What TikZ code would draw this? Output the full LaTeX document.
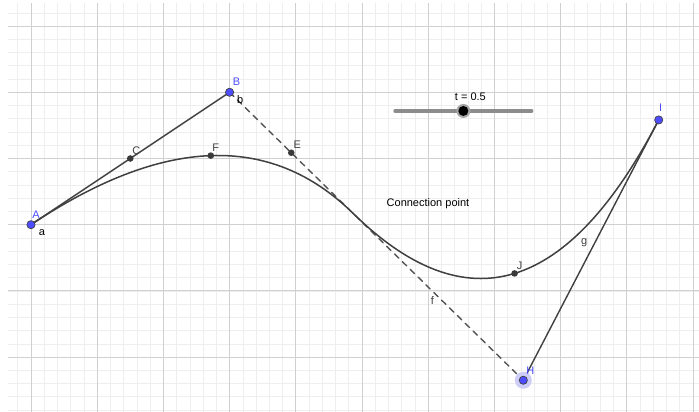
\documentclass[tikz,border=0pt]{standalone}
\usepackage{fontspec}
\setmainfont{Liberation Sans}
\usetikzlibrary{calc}
\definecolor{geoblue}{RGB}{77,77,255}
\definecolor{geodark}{RGB}{64,64,64}
\definecolor{majorgray}{RGB}{208,208,208}
\definecolor{minorgray}{RGB}{238,238,238}
\definecolor{haloblue}{RGB}{205,205,248}
\definecolor{slidergray}{RGB}{140,140,140}
\tikzset{
  seg/.style={line width=1.4pt,draw=geodark},
  dashseg/.style={line width=1.4pt,draw=geodark!90,dash pattern=on 6pt off 5pt},
  bez/.style={line width=1.5pt,draw=geodark},
  freept/.style={fill=geoblue,draw=black!75,line width=0.7pt},
  deppt/.style={fill=geodark!90!black},
  lbl/.style={font=\fontsize{11}{13}\selectfont,inner sep=0pt},
  bluelbl/.style={lbl,text=geoblue},
  greylbl/.style={lbl,text=geodark},
}
\begin{document}
\begin{tikzpicture}[x=66.2pt,y=66.2pt,line cap=round,line join=round]
  \useasboundingbox (-0.468,-2.829) rectangle (10.091,3.394);
  \begin{scope}
    \clip (-0.347,-2.829) rectangle (10.091,3.334);
    \draw[minorgray,line width=0.6pt,line cap=butt] (-0.4,-3) grid[step=0.2] (10.2,3.4);
    \draw[majorgray,line width=0.8pt,line cap=butt] (-1,-3) grid[step=1] (11,4);
  \end{scope}

  \coordinate (A) at (0,0);
  \coordinate (B) at (3,2);
  \coordinate (H) at (7.437,-2.35);
  \coordinate (I) at (9.482,1.582);
  \coordinate (P) at ($(B)!0.42!(H)$);
  \coordinate (C) at ($(A)!0.5!(B)$);
  \coordinate (E) at ($(B)!0.5!(P)$);
  \coordinate (F) at ($(C)!0.5!(E)$);
  \coordinate (K) at ($(P)!0.5!(H)$);
  \coordinate (L) at ($(H)!0.5!(I)$);
  \coordinate (J) at ($(K)!0.5!(L)$);

  \draw[seg] (A) -- (B);
  \draw[dashseg] (B) -- (H) node[greylbl,pos=0.7245,xshift=-10pt] (lf) {f};
  \draw[seg] (H) -- (I) node[greylbl,pos=0.53,xshift=-11pt] (lg) {g};
  \draw[bez] (A) .. controls ($(A)!2/3!(B)$) and ($(P)!2/3!(B)$) .. (P);
  \draw[bez] (P) .. controls ($(P)!2/3!(H)$) and ($(I)!2/3!(H)$) .. (I);

  \fill[haloblue] (H) circle (8.5pt);
  \foreach \p in {A,B,H,I}
    \filldraw[freept] (\p) circle (4.1pt);
  \foreach \p in {C,E,F,J}
    \fill[deppt] (\p) circle (3.3pt);

  \node[bluelbl,xshift=5pt,yshift=10pt] (lA) at (A) {A};
  \node[lbl,xshift=11pt,yshift=-8pt] (la) at (A) {a};
  \node[bluelbl,xshift=7pt,yshift=10.5pt] (lB) at (B) {B};
  \node[lbl,xshift=10.5pt,yshift=-7pt] (lb) at (B) {b};
  \node[bluelbl,xshift=7pt,yshift=10pt] (lH) at (H) {H};
  \node[bluelbl,xshift=2pt,yshift=12pt] (lI) at (I) {I};
  \node[greylbl,xshift=6pt,yshift=8pt] (lC) at (C) {C};
  \node[greylbl,xshift=6pt,yshift=8pt] (lE) at (E) {E};
  \node[greylbl,xshift=5pt,yshift=8pt] (lF) at (F) {F};
  \node[greylbl,xshift=5pt,yshift=8pt] (lJ) at (J) {J};

  \node[lbl] (conn) at (5.997,0.313) {Connection point};

  \coordinate (s0) at (5.500,1.718);
  \coordinate (s1) at (7.563,1.718);
  \draw[slidergray,line width=3.5pt] (s0) -- (s1);
  \coordinate (knob) at ($(s0)!0.5!(s1)$);
  \fill[black!35] (knob) circle (7pt);
  \fill[black] (knob) circle (5pt);
  \node[lbl,xshift=7pt,yshift=14pt] (tval) at (knob) {t = 0.5};
\end{tikzpicture}
\end{document}
